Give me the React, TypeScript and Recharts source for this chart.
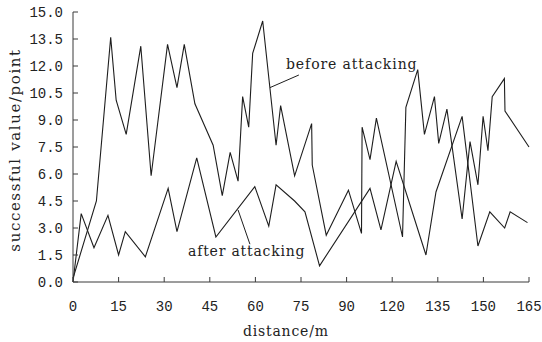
import { LineChart, Line, XAxis, YAxis, ReferenceLine } from 'recharts';

// x positions are in axis units: the 11 ticks sit at 0,15,...,150 (labels below skip 105)
const tickPositions = [0, 15, 30, 45, 60, 75, 90, 105, 120, 135, 150];
const xTickLabels = ['0', '15', '30', '45', '60', '75', '90', '120', '135', '150', '165'];
const yTicks = [0, 1.5, 3, 4.5, 6, 7.5, 9, 10.5, 12, 13.5, 15];

const beforeX = [0, 7.7, 12.4, 14.2, 17.5, 22.3, 25.7, 31.1, 34.2, 36.6, 40.1, 46.1, 49.1, 51.7, 54.3, 55.8, 57.8, 59.1, 62.4, 66.8, 68.3, 72.9, 78.5, 78.7, 83.3, 90.6, 94.9, 95.1, 97.7, 99.8, 108.4, 109.5, 113.4, 115.6, 118.9, 120.3, 123.0, 128.0, 130.6, 133.2, 134.9, 136.5, 137.9, 141.9, 142.1, 150];
const beforeY = [0.2, 4.5, 13.6, 10.1, 8.2, 13.1, 5.9, 13.2, 10.8, 13.2, 9.9, 7.6, 4.8, 7.2, 5.6, 10.3, 8.6, 12.7, 14.5, 7.6, 9.8, 5.9, 8.8, 6.5, 2.6, 5.1, 2.7, 8.6, 6.8, 9.1, 2.5, 9.7, 11.8, 8.2, 10.3, 7.7, 9.6, 3.5, 7.8, 5.4, 9.2, 7.3, 10.3, 11.3, 9.5, 7.5];

const afterX = [0, 2.7, 6.9, 11.5, 15.0, 17.2, 23.8, 31.3, 34.2, 40.7, 47.0, 59.8, 64.4, 66.8, 72.9, 76.3, 81.1, 97.7, 101.3, 106.3, 116.1, 119.4, 128.0, 133.2, 137.1, 142.0, 143.8, 149.5];
const afterY = [0.0, 3.8, 1.9, 3.7, 1.5, 2.8, 1.4, 5.2, 2.8, 6.9, 2.5, 5.3, 3.1, 5.4, 4.5, 3.9, 0.9, 5.2, 2.9, 6.7, 1.5, 5.0, 9.2, 2.0, 3.9, 3.0, 3.9, 3.3];

const beforeData = beforeX.map((x, i) => ({ x, v: beforeY[i] }));
const afterData = afterX.map((x, i) => ({ x, v: afterY[i] }));

const ink = '#1e1e1e';
const frame = '#3a3a3a';
const numFont = { fontFamily: 'Liberation Mono', fontSize: 14, fill: '#222' };
const textFont: React.CSSProperties = { fontFamily: 'DejaVu Serif', fontSize: 14, color: '#222', lineHeight: '16px', whiteSpace: 'nowrap', position: 'absolute' };

export default function App() {
  return (
    <div style={{ position: 'absolute', left: 0, top: 0, width: 542, height: 342, background: '#fff' }}>
      <LineChart width={542} height={342} margin={{ top: 12, right: 13, left: 0, bottom: 0 }}>
        <XAxis
          dataKey="x"
          type="number"
          domain={[0, 150]}
          ticks={tickPositions}
          tickFormatter={(v: number) => xTickLabels[tickPositions.indexOf(v)]}
          height={60}
          stroke={frame}
          tickSize={-5}
          tickMargin={24}
          tick={numFont}
        />
        <YAxis
          type="number"
          domain={[0, 15]}
          ticks={yTicks}
          tickFormatter={(v: number) => v.toFixed(1)}
          width={73}
          stroke={frame}
          tickSize={-5}
          tickMargin={15}
          tick={numFont}
        />
        <XAxis xAxisId="top" orientation="top" type="number" domain={[0, 150]} tick={false} tickLine={false} height={0} stroke={frame} />
        <YAxis yAxisId="right" orientation="right" type="number" domain={[0, 15]} tick={false} tickLine={false} width={0} stroke={frame} />
        <Line data={beforeData} dataKey="v" type="linear" stroke={ink} strokeWidth={1.1} dot={false} isAnimationActive={false} />
        <Line data={afterData} dataKey="v" type="linear" stroke={ink} strokeWidth={1.1} dot={false} isAnimationActive={false} />
        <ReferenceLine segment={[{ x: 74.3, y: 11.5 }, { x: 64.8, y: 10.8 }]} stroke={ink} strokeWidth={1} />
        <ReferenceLine segment={[{ x: 54.3, y: 4.0 }, { x: 58.2, y: 2.1 }]} stroke={ink} strokeWidth={1} />
      </LineChart>
      <div style={{ ...textFont, left: 286, top: 56, letterSpacing: 0.9 }}>before attacking</div>
      <div style={{ ...textFont, left: 188, top: 243, letterSpacing: 0.8 }}>after attacking</div>
      <div style={{ ...textFont, left: 243, top: 323, letterSpacing: 0.8 }}>distance/m</div>
      <div
        style={{
          ...textFont,
          left: 15 - 120,
          top: 150 - 8,
          width: 240,
          textAlign: 'center',
          letterSpacing: 1.6,
          fontSize: 15,
          transform: 'rotate(-90deg)',
        }}
      >
        successful value/point
      </div>
    </div>
  );
}
